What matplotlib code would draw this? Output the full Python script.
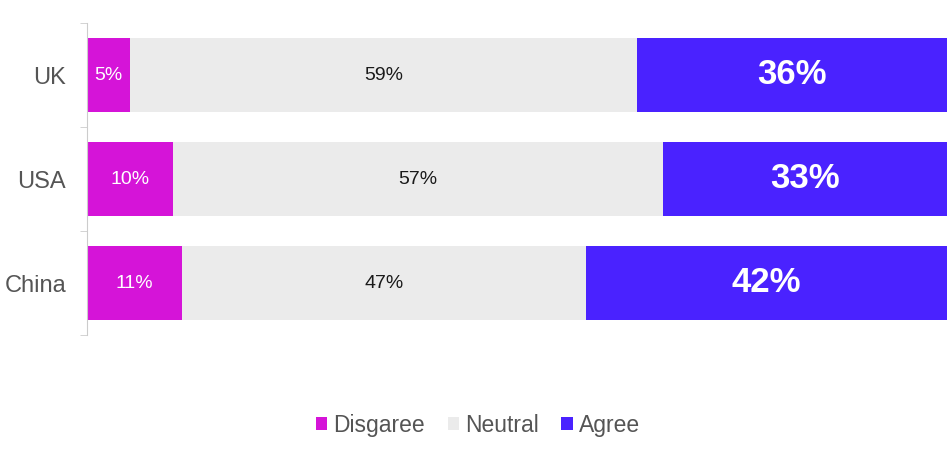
import matplotlib.pyplot as plt
import numpy as np
from matplotlib.patches import Patch

plt.rcParams['font.family'] = ['Liberation Sans', 'DejaVu Sans']

# данные
countries = ['UK', 'USA', 'China']
disagree = [5, 10, 11]
neutral = [59, 57, 47]
agree = [36, 33, 42]

series_names = ['Disgaree', 'Neutral', 'Agree']
colors = ['#D514D8', '#EBEBEB', '#4A22FF']

fig = plt.figure(figsize=(9.5, 4.58), dpi=100)
ax = fig.add_axes([87 / 950, 1 - 335 / 458, 860 / 950, 312 / 458])

y = np.arange(len(countries))
h = 0.71
left = np.zeros(len(countries))
for vals, name, col in zip([disagree, neutral, agree], series_names, colors):
    vals = np.array(vals)
    ax.barh(y, vals, left=left, height=h, color=col, label=name)
    for i, v in enumerate(vals):
        cx = left[i] + v / 2
        if name == 'Agree':
            ax.text(cx, y[i], f'{v}%', ha='center', va='center', color='white',
                    fontsize=25, fontweight='bold')
        elif name == 'Neutral':
            ax.text(cx, y[i], f'{v}%', ha='center', va='center', color='#1a1a1a',
                    fontsize=14)
        else:
            ax.text(cx, y[i], f'{v}%', ha='center', va='center', color='white',
                    fontsize=14)
    left = left + vals

ax.set_xlim(0, 100)
ax.set_ylim(len(countries) - 0.5, -0.5)
ax.set_yticks(y)
ax.set_yticklabels(countries, fontsize=17, color='#555555')
ax.tick_params(axis='y', which='major', length=0, pad=15)
ax.set_yticks(np.arange(len(countries) + 1) - 0.5, minor=True)
ax.tick_params(axis='y', which='minor', length=5, color='#CCCCCC')
ax.set_xticks([])
for s in ['top', 'right', 'bottom']:
    ax.spines[s].set_visible(False)
ax.spines['left'].set_color('#CCCCCC')

handles = [Patch(facecolor=c, label=n) for c, n in zip(colors, series_names)]
fig.legend(handles=handles, loc='center', bbox_to_anchor=(0.503, 0.072), ncol=3,
           frameon=False, fontsize=16.5, handlelength=0.5, handleheight=0.5,
           handletextpad=0.25, columnspacing=1.0, labelcolor='#555555')

fig.savefig('out.png', dpi=100)
